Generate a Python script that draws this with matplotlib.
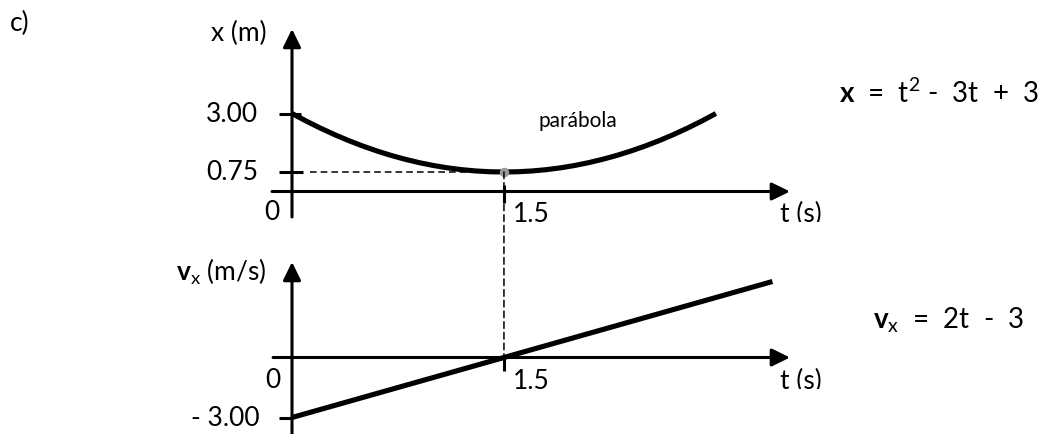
import matplotlib
matplotlib.use("Agg")
import matplotlib.pyplot as plt
from matplotlib.patches import ConnectionPatch
from matplotlib.transforms import Bbox, TransformedBbox

plt.rcParams["font.family"] = ["Lato", "DejaVu Sans"]
plt.rcParams["mathtext.fontset"] = "custom"
plt.rcParams["mathtext.rm"] = "Lato"
plt.rcParams["mathtext.bf"] = "Lato:bold"
plt.rcParams["mathtext.default"] = "regular"
plt.rcParams["lines.scale_dashes"] = False

# position x(t) = t^2 - 3t + 3, sampled every 0.1 s
t_pos = [0.0, 0.1, 0.2, 0.3, 0.4, 0.5, 0.6, 0.7, 0.8, 0.9, 1.0,
         1.1, 1.2, 1.3, 1.4, 1.5, 1.6, 1.7, 1.8, 1.9, 2.0,
         2.1, 2.2, 2.3, 2.4, 2.5, 2.6, 2.7, 2.8, 2.9, 3.0]
x_pos = [3.00, 2.71, 2.44, 2.19, 1.96, 1.75, 1.56, 1.39, 1.24, 1.11, 1.00,
         0.91, 0.84, 0.79, 0.76, 0.75, 0.76, 0.79, 0.84, 0.91, 1.00,
         1.11, 1.24, 1.39, 1.56, 1.75, 1.96, 2.19, 2.44, 2.71, 3.00]
# velocity vx(t) = 2t - 3
t_vel = [0.0, 1.5, 3.4]
v_vel = [-3.0, 0.0, 3.8]

t_min, x_min = 1.5, 0.75
x_ticks = [3.00, 0.75]
x_tick_labels = ["3.00", "0.75"]
v_ticks = [-3.00]
v_tick_labels = ["- 3.00"]
t_ticks = [1.5]
t_tick_labels = ["1.5"]

W, H = 1052, 435
PX_T, T0 = 141.3, 292          # px per second, px of t = 0
fig = plt.figure(figsize=(W / 100, H / 100), dpi=100)
ax_x = fig.add_axes([0, 1 - 223 / H, 1, 223 / H])
ax_v = fig.add_axes([0, 0, 1, 212 / H])
for ax in (ax_x, ax_v):
    ax.set_xlim(-T0 / PX_T, (W - T0) / PX_T)
    ax.axis("off")
ax_x.set_ylim(-(223 - 192.5) / 26, 192.5 / 26)
ax_v.set_ylim(-(435 - 358.5) / 20, (358.5 - 223) / 20)

AXLW, CURVELW = 2.2, 3.7
FS = 19


def axis_arrow(ax, start, end):
    ax.annotate("", xy=end, xytext=start, annotation_clip=False,
                arrowprops=dict(arrowstyle="-|>,head_length=0.55,head_width=0.27",
                                lw=AXLW, color="k", mutation_scale=20,
                                shrinkA=0, shrinkB=0))


def seg(ax, xs, ys, **kw):
    kw.setdefault("color", "k")
    kw.setdefault("lw", AXLW)
    ax.plot(xs, ys, solid_capstyle="butt", **kw)


# ---- x(t) panel
axis_arrow(ax_x, (0, -0.98), (0, 6.25))
axis_arrow(ax_x, (-0.1415, 0), (3.524, 0))
seg(ax_x, [0, 0], [1.90, 2.02], color="w", lw=4)          # small breaks in the axes
seg(ax_x, [0.078, 0.095], [0, 0], color="w", lw=4)
seg(ax_x, [-0.092, 0.064], [x_ticks[0]] * 2)
seg(ax_x, [-0.092, 0.078], [x_ticks[1]] * 2)
seg(ax_x, [t_ticks[0]] * 2, [0.25, -0.44])
ax_x.plot([0.127, t_min], [x_min, x_min], color="k", lw=1.1, dashes=(4.8, 2.9))
ax_x.plot(t_pos, x_pos, color="k", lw=CURVELW, solid_capstyle="butt",
          solid_joinstyle="round", zorder=3)

for v, lab in zip(x_ticks, x_tick_labels):
    ax_x.text(-0.24, v, lab, fontsize=FS, ha="right", va="center")
ax_x.text(-0.14, -1.06, "0", fontsize=FS, ha="center", va="baseline", clip_on=True)
ax_x.text(t_ticks[0] + 0.064, -1.12, t_tick_labels[0], fontsize=FS, ha="left",
          va="baseline", clip_on=True)
ax_x.text(3.454, -1.12, "t (s)", fontsize=FS, ha="left", va="baseline", clip_on=True)
ax_x.text(-0.177, 6.10, "x (m)", fontsize=FS, ha="right", va="center")
ax_x.text(1.741, 2.75, "parábola", fontsize=15, ha="left", va="center")
ax_x.text(3.871, 3.83, r"$\mathbf{x}$  =  t$^{2}$ -  3t  +  3", fontsize=20,
          ha="left", va="center")

# ---- vx(t) panel
axis_arrow(ax_v, (0, -4.0), (0, 4.775))
axis_arrow(ax_v, (-0.134, 0), (3.524, 0))
seg(ax_v, [-0.092, 0], [v_ticks[0]] * 2)
seg(ax_v, [t_ticks[0]] * 2, [0.075, -0.675])
ax_v.plot(t_vel, v_vel, color="k", lw=CURVELW, solid_capstyle="butt", zorder=3)

clip = TransformedBbox(Bbox([[0, (435 - 390) / 212], [1, 1]]), ax_v.transAxes)
for v, lab in zip(v_ticks, v_tick_labels):
    ax_v.text(-0.226, v, lab, fontsize=FS, ha="right", va="center")
ax_v.text(-0.134, -1.5, "0", fontsize=FS, ha="center", va="baseline")
for tx, lab in [(t_ticks[0] + 0.064, t_tick_labels[0]), (3.454, "t (s)")]:
    txt = ax_v.text(tx, -1.55, lab, fontsize=FS, ha="left", va="baseline")
    txt.set_clip_on(True)
    txt.set_clip_box(clip)
ax_v.text(-0.177, 4.325, r"$\mathbf{v}_{x}$ (m/s)", fontsize=FS, ha="right", va="center")
ax_v.text(4.112, 1.925, r"$\mathbf{v}_{x}$  =  2t  -  3", fontsize=20, ha="left", va="center")

# dashed guide from the minimum of x(t) down to vx = 0
con = ConnectionPatch(xyA=(t_min, x_min), coordsA=ax_x.transData,
                      xyB=(t_min, 0), coordsB=ax_v.transData,
                      color="k", lw=1.1, linestyle=(0, (4.8, 2.9)), zorder=2)
fig.add_artist(con)
ax_x.plot([t_min], [x_min], "o", color="#999999", ms=5.8, zorder=4)

fig.text(10 / W, 1 - 23 / H, "c)", fontsize=FS, ha="left", va="center")

fig.savefig("out.png", dpi=100)
